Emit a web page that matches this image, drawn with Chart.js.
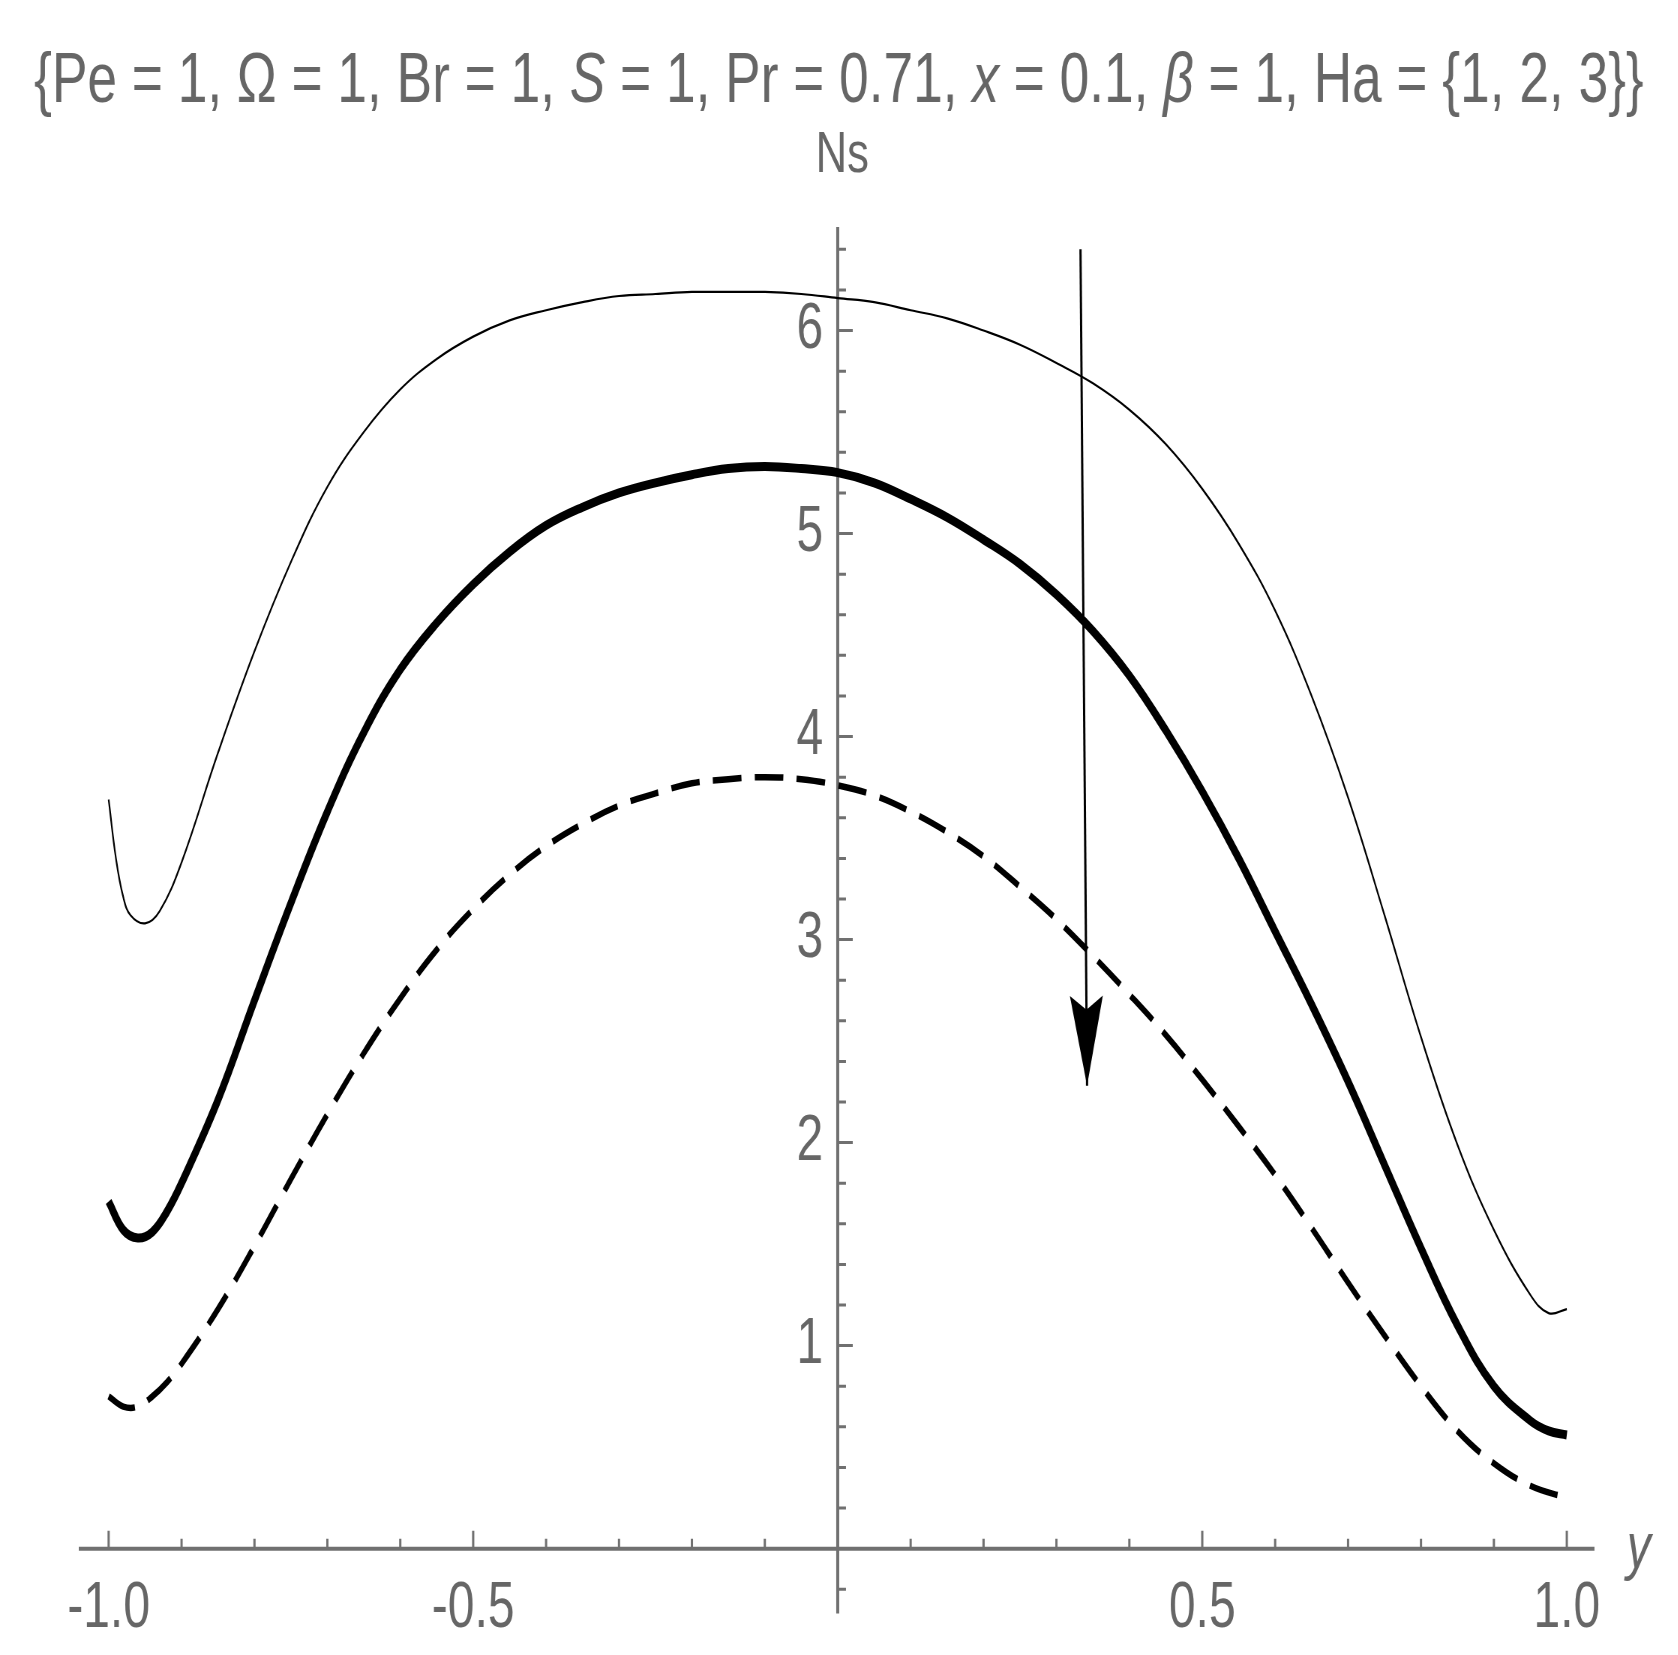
<!DOCTYPE html>
<html>
<head>
<meta charset="utf-8">
<script src="https://cdn.jsdelivr.net/npm/chart.js@4.4.1/dist/chart.umd.min.js"></script>
<style>
  html, body { margin: 0; padding: 0; background: #fff; overflow: hidden; }
  /* the source picture is squeezed sideways, so draw wide and squeeze it the same way */
  #wrap { width: 2237px; height: 1655px; transform: scaleX(0.75); transform-origin: 0 0; }
</style>
</head>
<body>
<div id="wrap"><canvas id="nsChart"></canvas></div>
<script>
// Ha = 1 (thin line)
const ha1X = [-1.0, -0.99, -0.98, -0.97, -0.95, -0.93, -0.9, -0.85, -0.8, -0.75, -0.7, -0.65, -0.6, -0.55, -0.5, -0.45, -0.4, -0.35, -0.3, -0.25, -0.2, -0.15, -0.1, -0.05, 0, 0.05, 0.1, 0.15, 0.2, 0.25, 0.3, 0.35, 0.4, 0.45, 0.5, 0.55, 0.6, 0.65, 0.7, 0.75, 0.8, 0.85, 0.9, 0.95, 0.975, 1.0];
const ha1Y = [3.69, 3.40, 3.21, 3.12, 3.08, 3.14, 3.38, 3.92, 4.42, 4.86, 5.23, 5.50, 5.71, 5.86, 5.97, 6.05, 6.10, 6.14, 6.17, 6.18, 6.19, 6.19, 6.19, 6.18, 6.16, 6.14, 6.10, 6.06, 6.00, 5.93, 5.84, 5.74, 5.61, 5.44, 5.22, 4.95, 4.62, 4.20, 3.70, 3.12, 2.52, 1.99, 1.57, 1.25, 1.16, 1.18];

// Ha = 2 (thick line)
const ha2X = [-1.0, -0.98, -0.96, -0.94, -0.92, -0.9, -0.85, -0.8, -0.75, -0.7, -0.65, -0.6, -0.55, -0.5, -0.45, -0.4, -0.35, -0.3, -0.25, -0.2, -0.15, -0.1, -0.05, 0, 0.05, 0.1, 0.15, 0.2, 0.25, 0.3, 0.35, 0.4, 0.45, 0.5, 0.55, 0.6, 0.65, 0.7, 0.75, 0.8, 0.85, 0.9, 0.95, 0.975, 1.0];
const ha2Y = [1.71, 1.57, 1.53, 1.56, 1.66, 1.80, 2.21, 2.70, 3.18, 3.63, 4.02, 4.33, 4.56, 4.75, 4.91, 5.04, 5.13, 5.20, 5.25, 5.29, 5.32, 5.33, 5.32, 5.30, 5.25, 5.17, 5.08, 4.97, 4.85, 4.70, 4.52, 4.30, 4.03, 3.73, 3.40, 3.04, 2.68, 2.30, 1.89, 1.48, 1.10, 0.80, 0.63, 0.58, 0.56];

// Ha = 3 (dashed line)
const ha3X = [-1.0, -0.98, -0.96, -0.94, -0.92, -0.9, -0.85, -0.8, -0.75, -0.7, -0.65, -0.6, -0.55, -0.5, -0.45, -0.4, -0.35, -0.3, -0.25, -0.2, -0.15, -0.1, -0.05, 0, 0.05, 0.1, 0.15, 0.2, 0.25, 0.3, 0.35, 0.4, 0.45, 0.5, 0.55, 0.6, 0.65, 0.7, 0.75, 0.8, 0.85, 0.9, 0.95, 1.0];
const ha3Y = [0.75, 0.70, 0.70, 0.75, 0.82, 0.91, 1.18, 1.49, 1.82, 2.14, 2.44, 2.71, 2.95, 3.15, 3.32, 3.46, 3.57, 3.66, 3.72, 3.77, 3.79, 3.80, 3.79, 3.76, 3.71, 3.63, 3.53, 3.41, 3.26, 3.10, 2.92, 2.73, 2.53, 2.31, 2.08, 1.84, 1.58, 1.31, 1.05, 0.80, 0.58, 0.42, 0.31, 0.25];

// arrow showing increasing Ha
const arrowX = [0.333, 0.342];
const arrowY = [6.40, 2.28];

const xTickValues = [-1, -0.5, 0.5, 1];
const xTickLabels = ["-1.0", "-0.5", "0.5", "1.0"];
const yTickValues = [1, 2, 3, 4, 5, 6];
const yTickLabels = ["1", "2", "3", "4", "5", "6"];

const titleParts = [
  ["{Pe = 1, \u03A9 = 1, Br = 1, ", false],
  ["S", true],
  [" = 1, Pr = 0.71, ", false],
  ["x", true],
  [" = 0.1, ", false],
  ["\u03B2", true],
  [" = 1, Ha = {1, 2, 3}}", false]
];

const FONT = "'Liberation Sans', Arial, sans-serif";
const GRAY = "#666666";
const AXIS_GRAY = "#707070";

function pts(xs, ys) {
  return xs.map((x, i) => ({ x: x, y: ys[i] }));
}

const mmaAxes = {
  id: "mmaAxes",
  beforeDatasetsDraw(chart) {
    const { ctx } = chart;
    const x = chart.scales.x, y = chart.scales.y;
    const x0 = x.getPixelForValue(0), y0 = y.getPixelForValue(0);
    ctx.save();
    ctx.strokeStyle = AXIS_GRAY;
    ctx.lineWidth = 4;
    ctx.beginPath();
    ctx.moveTo(x.left, y0);
    ctx.lineTo(x.right, y0);
    ctx.moveTo(x0, y.top);
    ctx.lineTo(x0, y.bottom);
    ctx.stroke();

    // major and minor ticks, pointing into the plot
    ctx.lineWidth = 3;
    ctx.beginPath();
    for (let i = -10; i <= 10; i++) {
      if (i === 0) continue;
      const px = x.getPixelForValue(i / 10);
      const len = i % 5 === 0 ? 18 : 10;
      ctx.moveTo(px, y0);
      ctx.lineTo(px, y0 - len);
    }
    for (let i = -1; i <= 32; i++) {
      if (i === 0) continue;
      const py = y.getPixelForValue(i / 5);
      const len = i % 5 === 0 ? 20 : 11;
      ctx.moveTo(x0, py);
      ctx.lineTo(x0 + len, py);
    }
    ctx.stroke();
    ctx.restore();
  },
  afterDatasetsDraw(chart) {
    // arrow head at the end of the arrow dataset
    const meta = chart.getDatasetMeta(3);
    const p0 = meta.data[0], p1 = meta.data[1];
    const ang = Math.atan2(p1.y - p0.y, p1.x - p0.x);
    const { ctx } = chart;
    ctx.save();
    ctx.translate(p1.x, p1.y);
    ctx.rotate(ang);
    ctx.fillStyle = "#000";
    ctx.beginPath();
    ctx.moveTo(0, 0);
    ctx.lineTo(-90, -22);
    ctx.lineTo(-76, 0);
    ctx.lineTo(-90, 22);
    ctx.closePath();
    ctx.fill();
    ctx.restore();
  },
  afterDraw(chart) {
    const { ctx } = chart;
    const x = chart.scales.x;
    ctx.save();
    ctx.fillStyle = GRAY;
    ctx.textBaseline = "middle";

    // title, with the italic symbols
    const size = 71;
    let total = 0;
    const widths = titleParts.map(([t, it]) => {
      ctx.font = (it ? "italic " : "") + size + "px " + FONT;
      const w = ctx.measureText(t).width;
      total += w;
      return w;
    });
    let tx = chart.width / 2 - total / 2;
    titleParts.forEach(([t, it], i) => {
      ctx.font = (it ? "italic " : "") + size + "px " + FONT;
      ctx.textAlign = "left";
      ctx.fillText(t, tx, 82);
      tx += widths[i];
    });

    ctx.font = "58px " + FONT;
    ctx.textAlign = "center";
    ctx.fillText("Ns", x.getPixelForValue(0) + 6, 156);

    ctx.font = "italic 64px " + FONT;
    ctx.fillText("y", 2185, 1550);
    ctx.restore();
  }
};

const ctx = document.getElementById("nsChart").getContext("2d");
const chart = new Chart(ctx, {
  type: "line",
  data: {
    datasets: [
      { label: "Ha = 1", data: pts(ha1X, ha1Y), borderColor: "#000", borderWidth: 2.2, pointRadius: 0, tension: 0.4, fill: false },
      { label: "Ha = 2", data: pts(ha2X, ha2Y), borderColor: "#000", borderWidth: 9, pointRadius: 0, tension: 0.4, fill: false },
      { label: "Ha = 3", data: pts(ha3X, ha3Y), borderColor: "#000", borderWidth: 6.5, borderDash: [38, 18], pointRadius: 0, tension: 0.4, fill: false },
      { label: "arrow", data: pts(arrowX, arrowY), borderColor: "#000", borderWidth: 3, pointRadius: 0, fill: false }
    ]
  },
  options: {
    responsive: true,
    maintainAspectRatio: false,
    animation: false,
    layout: { padding: { left: 105, right: 111, top: 227, bottom: 38 } },
    plugins: { legend: { display: false }, tooltip: { enabled: false } },
    scales: {
      x: {
        type: "linear",
        min: -1.041,
        max: 1.038,
        position: { y: 0 },
        grid: { display: false, drawTicks: false },
        border: { display: false },
        afterBuildTicks: (s) => { s.ticks = xTickValues.map(v => ({ value: v })); },
        ticks: {
          callback: (v, i) => xTickLabels[i],
          color: GRAY,
          font: { size: 64, family: FONT },
          padding: 22,
          maxRotation: 0,
          autoSkip: false
        }
      },
      y: {
        type: "linear",
        min: -0.32,
        max: 6.51,
        // labels sit a little left of the drawn axis at x = 0
        position: { x: -0.02 },
        grid: { display: false, drawTicks: false },
        border: { display: false },
        afterBuildTicks: (s) => { s.ticks = yTickValues.map(v => ({ value: v })); },
        ticks: {
          callback: (v, i) => yTickLabels[i],
          color: GRAY,
          font: { size: 64, family: FONT },
          autoSkip: false
        }
      }
    }
  },
  plugins: [mmaAxes]
});
</script>
</body>
</html>
